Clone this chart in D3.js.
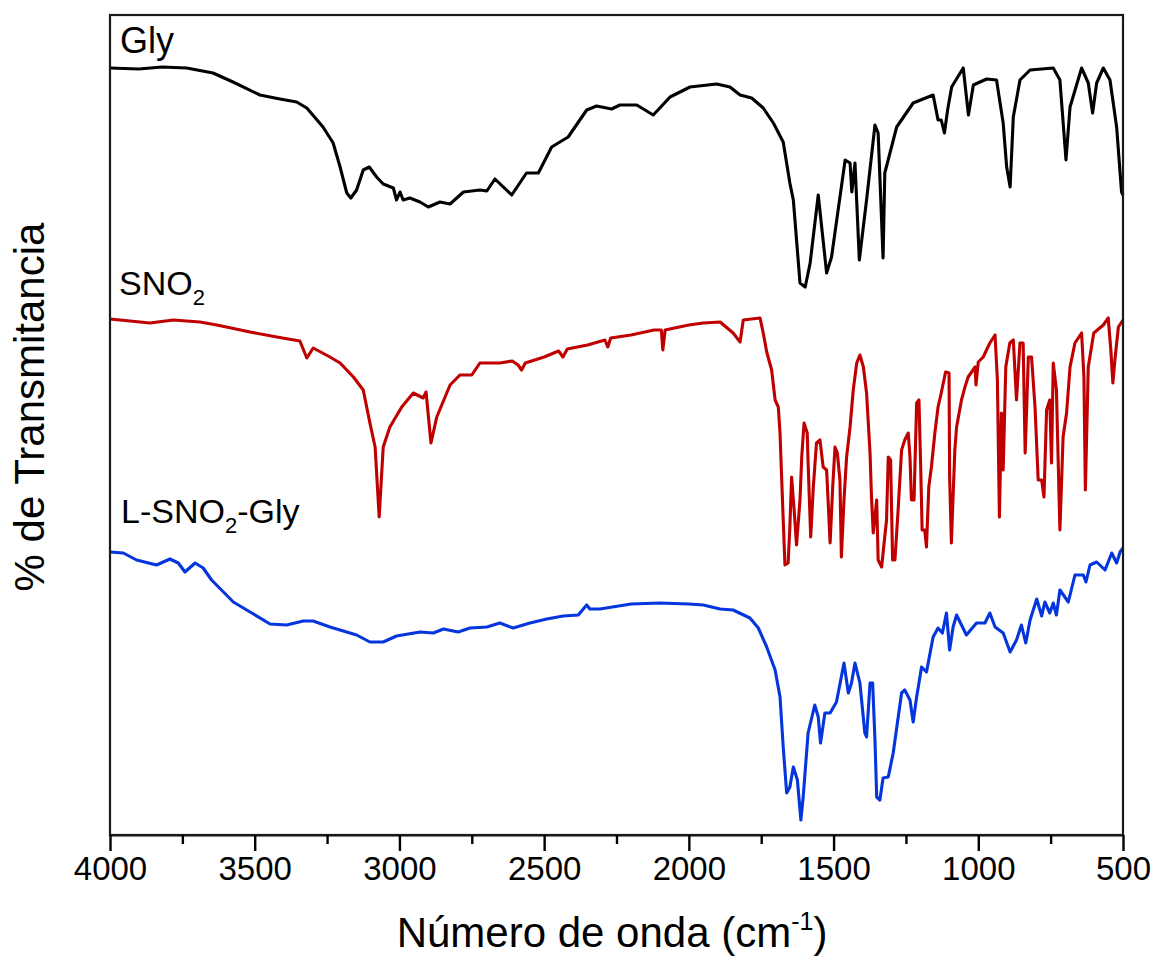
<!DOCTYPE html>
<html>
<head>
<meta charset="utf-8">
<script src="https://cdn.jsdelivr.net/npm/d3@7"></script>
<style>
  html, body { margin: 0; padding: 0; background: #fff; }
  svg { display: block; font-family: "Liberation Sans", Arial, sans-serif; }
</style>
</head>
<body>
<svg id="chart" width="1154" height="970"></svg>
<script>
// ---- data (wavenumber cm-1, transmittance in arbitrary offset units) ----
const xTicksMajor = [4000, 3500, 3000, 2500, 2000, 1500, 1000, 500];
const xTicksMinor = [3750, 3250, 2750, 2250, 1750, 1250, 750];

const glyWn = [4000,3900,3820,3735,3644,3575,3482,3413,3355,3320,3264,3229,3205,3182,3168,3148,3125,3104,3079,3056,3021,3010,2998,2987,2964,2929,2900,2860,2825,2779,2722,2698,2670,2612,2561,2520,2474,2417,2353,2319,2267,2238,2180,2123,2065,1996,1904,1858,1823,1783,1743,1708,1674,1651,1639,1616,1598,1581,1553,1524,1507,1460,1443,1437,1426,1411,1386,1357,1346,1329,1323,1282,1225,1156,1139,1128,1117,1106,1092,1052,1034,1017,971,937,914,902,890,879,856,821,741,718,697,683,643,620,605,591,568,545,522,505,500];
const glyT  = [767,766,768,767,762,753,740,736,733,727,708,692,668,642,637,645,665,668,658,651,647,635,643,635,637,633,628,633,631,643,645,644,656,640,662,662,688,698,725,729,726,730,730,720,738,748,751,748,740,737,727,712,693,652,635,552,548,572,640,562,578,675,672,643,672,575,635,710,702,577,662,708,732,740,715,715,702,725,748,767,720,750,756,755,712,668,648,718,755,765,767,755,675,728,767,752,722,752,767,755,708,643,640];

const snoWn = [4000,3862,3781,3689,3631,3516,3424,3344,3320,3298,3240,3205,3159,3125,3102,3084,3070,3056,3033,2992,2952,2918,2908,2891,2871,2825,2791,2750,2722,2653,2610,2590,2578,2565,2500,2450,2435,2420,2350,2290,2280,2270,2200,2120,2095,2090,2082,2000,1950,1892,1847,1823,1812,1754,1743,1731,1714,1702,1691,1685,1680,1674,1668,1657,1651,1645,1637,1628,1616,1610,1602,1591,1588,1579,1570,1559,1547,1536,1524,1519,1512,1503,1495,1487,1478,1473,1464,1455,1443,1432,1420,1409,1397,1386,1374,1369,1363,1351,1346,1334,1329,1317,1311,1303,1296,1288,1277,1265,1254,1242,1236,1231,1222,1213,1205,1199,1194,1185,1179,1171,1162,1150,1139,1128,1113,1101,1099,1093,1081,1075,1058,1046,1035,1011,1008,1000,983,960,942,934,927,920,914,905,891,879,868,856,845,838,827,816,804,793,781,773,764,753,747,741,730,718,707,695,683,666,643,635,630,620,601,568,551,542,535,528,516,500];
const snoT  = [516,512,515,513,510,503,498,494,477,487,478,472,458,445,412,388,318,388,408,428,442,437,443,392,418,450,460,460,472,472,474,470,465,472,478,484,478,486,490,495,488,497,500,505,505,485,505,510,512,513,502,493,515,517,502,483,465,435,428,402,362,315,270,272,308,358,328,290,335,378,412,402,372,298,348,392,395,368,365,335,292,348,388,382,355,278,335,378,408,445,472,480,468,442,382,338,302,335,275,268,282,315,378,375,275,275,325,385,395,402,378,335,335,432,435,368,305,305,288,348,368,402,428,442,463,462,358,292,385,408,435,448,458,468,450,473,478,492,500,455,318,422,365,468,492,495,435,492,492,382,478,478,428,355,355,338,425,435,372,472,445,305,398,422,468,492,502,458,345,468,502,510,517,485,452,475,508,515];

const lsgWn = [4000,3954,3908,3839,3793,3764,3741,3706,3678,3666,3649,3608,3574,3516,3447,3390,3332,3298,3240,3148,3102,3056,3010,2929,2883,2848,2797,2756,2698,2653,2607,2549,2491,2434,2382,2353,2342,2307,2200,2100,2000,1950,1892,1847,1789,1760,1731,1702,1685,1674,1662,1651,1639,1625,1613,1605,1588,1565,1553,1545,1530,1512,1490,1464,1449,1438,1426,1409,1392,1386,1374,1365,1357,1351,1340,1329,1311,1294,1265,1254,1236,1225,1213,1196,1179,1156,1139,1124,1110,1099,1087,1075,1041,1006,977,960,942,914,890,868,851,836,821,798,781,770,753,741,730,718,689,666,637,628,614,591,562,539,522,510,500];
const lsgT  = [283,282,275,270,276,272,263,272,267,262,255,243,233,223,211,210,214,214,208,200,193,193,199,203,202,206,203,207,208,212,207,212,216,219,220,230,226,226,231,232,231,230,226,225,217,207,188,165,138,88,42,48,68,55,15,38,102,130,118,92,122,122,133,172,142,152,172,152,102,98,152,152,95,38,35,57,58,82,142,145,135,113,138,168,163,198,207,202,222,185,208,220,200,212,212,222,208,202,183,195,210,192,215,236,219,233,222,232,220,245,233,260,260,253,270,273,265,282,272,283,287];

const seriesNames = ["Gly", "SNO2", "L-SNO2-Gly"];
const seriesColors = ["#000000", "#c00000", "#0535dc"];

// ---- layout ----
const svg = d3.select("#chart");
const plotL = 110, plotR = 1123, plotT = 15, plotB = 835;

const x = d3.scaleLinear().domain([4000, 500]).range([plotL, plotR]);
const y = d3.scaleLinear().domain([0, 820]).range([plotB, plotT]);

const line = d3.line().x(d => x(d[0])).y(d => y(d[1]));

const series = [
  d3.zip(glyWn, glyT),
  d3.zip(snoWn, snoT),
  d3.zip(lsgWn, lsgT)
];

svg.append("g").selectAll("path")
  .data(series)
  .join("path")
  .attr("d", line)
  .attr("fill", "none")
  .attr("stroke", (d, i) => seriesColors[i])
  .attr("stroke-width", 3.1)
  .attr("stroke-linejoin", "round");

// frame
svg.append("rect")
  .attr("x", plotL).attr("y", plotT)
  .attr("width", plotR - plotL).attr("height", plotB - plotT)
  .attr("fill", "none").attr("stroke", "#1a1a1a").attr("stroke-width", 2.2);

// x axis major
const axMajor = svg.append("g")
  .attr("transform", `translate(0,${plotB})`)
  .call(d3.axisBottom(x).tickValues(xTicksMajor).tickSize(16).tickSizeOuter(0).tickFormat(d3.format("d")));
axMajor.select(".domain").attr("stroke", "#1a1a1a").attr("stroke-width", 2.2);
axMajor.selectAll(".tick line").attr("stroke", "#000").attr("stroke-width", 2.4);
axMajor.selectAll(".tick text")
  .attr("font-family", "'Liberation Sans', Arial, sans-serif")
  .attr("font-size", 33).attr("fill", "#000")
  .attr("y", 22).attr("dy", "0.71em");

const axMinor = svg.append("g")
  .attr("transform", `translate(0,${plotB})`)
  .call(d3.axisBottom(x).tickValues(xTicksMinor).tickSize(9).tickFormat(""));
axMinor.select(".domain").remove();
axMinor.selectAll(".tick line").attr("stroke", "#000").attr("stroke-width", 2.4);

// axis titles
const xt = svg.append("text")
  .attr("x", 612).attr("y", 947)
  .attr("text-anchor", "middle")
  .attr("font-size", 42).attr("fill", "#000");
xt.append("tspan").text("Número de onda (cm");
xt.append("tspan").attr("font-size", 25).attr("dy", -17).text("-1");
xt.append("tspan").attr("dy", 17).text(")");

svg.append("text")
  .attr("transform", "translate(44,407) rotate(-90)")
  .attr("text-anchor", "middle")
  .attr("font-size", 42).attr("fill", "#000")
  .text("% de Transmitancia");

// series labels
const gly = svg.append("text").attr("x", 120).attr("y", 53).attr("font-size", 36).attr("fill", "#000");
gly.text(seriesNames[0]);

const sno = svg.append("text").attr("x", 119).attr("y", 295).attr("font-size", 34).attr("fill", "#000");
sno.append("tspan").text("SNO");
sno.append("tspan").attr("font-size", 22).attr("dy", 10).text("2");

const lsg = svg.append("text").attr("x", 121).attr("y", 523).attr("font-size", 34).attr("fill", "#000");
lsg.append("tspan").text("L-SNO");
lsg.append("tspan").attr("font-size", 22).attr("dy", 10).text("2");
lsg.append("tspan").attr("dy", -10).text("-Gly");
</script>
</body>
</html>
